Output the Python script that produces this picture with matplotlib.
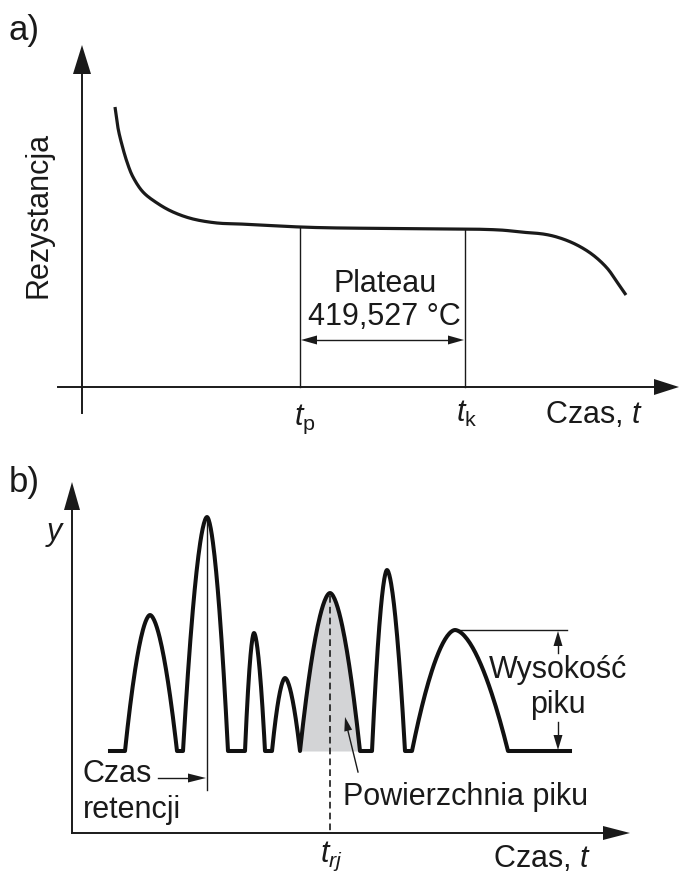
import numpy as np
import matplotlib.pyplot as plt
from matplotlib.patches import Polygon

plt.rcParams['font.family'] = ['Liberation Sans', 'DejaVu Sans']
plt.rcParams['mathtext.fontset'] = 'custom'
plt.rcParams['mathtext.rm'] = 'Liberation Sans'
plt.rcParams['mathtext.it'] = 'Liberation Sans:italic'

# ---- panel a: resistance curve (pixel coords, y down) ----
curve_x = [115, 118, 122, 127, 133, 143, 157, 173, 193, 217, 240, 260, 300, 340,
           400, 465, 500, 520, 543, 560, 577, 593, 607, 617, 626]
curve_y = [107, 128, 145, 162, 177, 192, 203, 212, 219, 223, 224, 225, 227, 228,
           228.5, 229, 230, 232, 234, 238, 245, 255, 268, 282, 295]
t_p, t_k = 300, 465
axis_a_y, axis_a_x = 387, 82

# ---- panel b: chromatogram peaks ----
baseline_y = 751
base_start, base_end = 110, 570
peak_left = [125, 183, 245, 272, 300, 372, 412]
peak_apex = [150, 207, 254, 285, 330, 387, 455]
peak_right = [177, 228, 265, 300, 360, 405, 508]
peak_top = [615, 517, 633, 678, 593, 570, 630]
shaded_peak = 4
retention_peak = 1
height_peak = 6
axis_b_y, axis_b_x = 833, 72

fig = plt.figure(figsize=(6.79, 8.77), dpi=100)
ax = fig.add_axes([0, 0, 1, 1])
ax.set_xlim(0, 679)
ax.set_ylim(877, 0)
ax.axis('off')

FS = 22
INK = '#1a1a1a'


def head(tip, direction, length, half):
    tx, ty = tip
    dx, dy = direction
    bx, by = tx - dx * length, ty - dy * length
    px, py = -dy * half, dx * half
    ax.add_patch(Polygon([(tx, ty), (bx + px, by + py), (bx - px, by - py)],
                         closed=True, color=INK, lw=0))


def smooth(x, y, n=12):
    # Catmull-Rom path through the read points, for drawing only
    pts = np.column_stack([x, y]).astype(float)
    pts = np.vstack([pts[0], pts, pts[-1]])
    out = []
    for i in range(1, len(pts) - 2):
        p0, p1, p2, p3 = pts[i - 1], pts[i], pts[i + 1], pts[i + 2]
        for t in np.linspace(0, 1, n, endpoint=False):
            out.append(0.5 * ((2 * p1) + (-p0 + p2) * t
                              + (2 * p0 - 5 * p1 + 4 * p2 - p3) * t ** 2
                              + (-p0 + 3 * p1 - 3 * p2 + p3) * t ** 3))
    out.append(pts[-2])
    out = np.array(out)
    return out[:, 0], out[:, 1]


# panel a axes
ax.plot([58, 662], [axis_a_y, axis_a_y], color=INK, lw=1.4)
head((679, axis_a_y), (1, 0), 25, 8)
ax.plot([axis_a_x, axis_a_x], [413, 60], color=INK, lw=1.4)
head((axis_a_x, 45), (0, -1), 29, 9)

cx, cy = smooth(curve_x, curve_y)
ax.plot(cx, cy, color=INK, lw=2.3, solid_capstyle='butt')

for xv in (t_p, t_k):
    yv = np.interp(xv, curve_x, curve_y)
    ax.plot([xv, xv], [yv, axis_a_y], color=INK, lw=1.0)

ax.plot([t_p + 10, t_k - 10], [340, 340], color=INK, lw=1.0)
head((t_p + 1, 340), (-1, 0), 16, 4.5)
head((t_k - 1, 340), (1, 0), 16, 4.5)

ax.text(9, 40, 'a)', fontsize=25, ha='left', va='baseline', color=INK)
ax.text(47, 215, 'Rezystancja', fontsize=FS, rotation=90, rotation_mode='anchor',
        ha='center', va='baseline', color=INK)
ax.text(385, 292, 'Plateau', fontsize=FS, ha='center', va='baseline', color=INK)
ax.text(384, 325, '419,527 °C', fontsize=FS, ha='center', va='baseline', color=INK)
ax.text(294, 425, r'$t_{\mathrm{p}}$', fontsize=FS, ha='left', va='baseline', color=INK)
ax.text(456, 422, r'$t_{\mathrm{k}}$', fontsize=FS, ha='left', va='baseline', color=INK)
ax.text(545, 423, 'Czas, $t$', fontsize=FS, ha='left', va='baseline', color=INK)

# panel b axes
ax.plot([axis_b_x, 606], [axis_b_y, axis_b_y], color=INK, lw=1.4)
head((630, axis_b_y), (1, 0), 27, 7)
ax.plot([axis_b_x, axis_b_x], [axis_b_y, 500], color=INK, lw=1.4)
head((axis_b_x, 482), (0, -1), 28, 8)

# peaks
p = 1.75
xs, ys = [base_start], [baseline_y]
peak_curves = []
for l, a, r, top in zip(peak_left, peak_apex, peak_right, peak_top):
    h = baseline_y - top
    xl = np.linspace(l, a, 40)
    xr = np.linspace(a, r, 40)[1:]
    yl = baseline_y - h * (1 - np.abs((xl - a) / (a - l)) ** p)
    yr = baseline_y - h * (1 - np.abs((xr - a) / (r - a)) ** p)
    px = np.concatenate([xl, xr])
    py = np.concatenate([yl, yr])
    peak_curves.append((px, py))
    xs.extend(px)
    ys.extend(py)
xs.append(base_end)
ys.append(baseline_y)

sx, sy = peak_curves[shaded_peak]
ax.fill_between(sx, sy, baseline_y, color='#d3d4d6', lw=0, zorder=1)
ax.plot(xs, ys, color='#111111', lw=2.9, solid_joinstyle='round', zorder=3)

# retention time
rx, rtop = peak_apex[retention_peak], peak_top[retention_peak]
ax.plot([rx, rx], [rtop, 790], color=INK, lw=1.0)
ax.plot([158, rx - 14], [778, 778], color=INK, lw=1.0)
head((rx - 1, 778), (1, 0), 18, 4.5)
ax.text(83, 782, 'Czas', fontsize=FS, ha='left', va='baseline', color=INK)
ax.text(83, 818, 'retencji', fontsize=FS, ha='left', va='baseline', color=INK)

# dashed t_rj line
dx = peak_apex[shaded_peak]
ax.plot([dx, dx], [peak_top[shaded_peak] + 3, axis_b_y], color=INK,
        lw=1.2, ls=(0, (4, 2.5)), zorder=2)
ax.text(320, 862, r'$t_{rj}$', fontsize=FS, ha='left', va='baseline', color=INK)

# peak area annotation
ax.plot([358, 347.5], [772, 729], color=INK, lw=1.0, zorder=4)
head((345, 717), (-13 / 56.5, -55 / 56.5), 14, 4)
ax.text(343, 805, 'Powierzchnia piku', fontsize=FS, ha='left', va='baseline', color=INK)

# peak height
hx, htop = peak_apex[height_peak], peak_top[height_peak]
ax.plot([hx, 567], [htop, htop], color=INK, lw=1.0)
ax.plot([558, 558], [htop + 12, 653], color=INK, lw=1.0)
head((558, htop + 1), (0, -1), 15, 4.5)
ax.plot([558, 558], [722, baseline_y - 12], color=INK, lw=1.0)
head((558, baseline_y - 1), (0, 1), 15, 4.5)
ax.text(558, 678, 'Wysokość', fontsize=FS, ha='center', va='baseline', color=INK)
ax.text(558, 713, 'piku', fontsize=FS, ha='center', va='baseline', color=INK)

ax.text(9, 492, 'b)', fontsize=25, ha='left', va='baseline', color=INK)
ax.text(45, 540, '$y$', fontsize=FS, ha='left', va='baseline', color=INK)
ax.text(493, 867, 'Czas, $t$', fontsize=FS, ha='left', va='baseline', color=INK)

fig.savefig('out.png', dpi=100)
